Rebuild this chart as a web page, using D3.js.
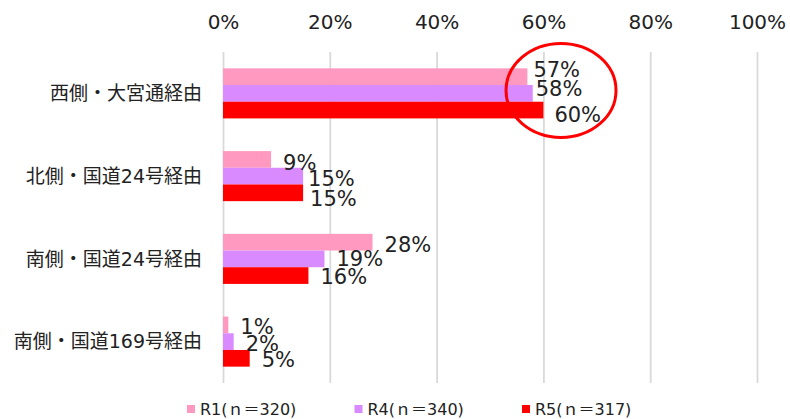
<!DOCTYPE html>
<html>
<head>
<meta charset="utf-8">
<script src="https://cdn.jsdelivr.net/npm/d3@7"></script>
<style>
  html, body { margin: 0; padding: 0; background: #fff; }
  svg { display: block; }
</style>
</head>
<body>
<div id="chart"></div>
<script>
const categories = ["西側・大宮通経由", "北側・国道24号経由", "南側・国道24号経由", "南側・国道169号経由"];
const seriesNames = ["R1(ｎ＝320)", "R4(ｎ＝340)", "R5(ｎ＝317)"];
const r1Values = [57, 9, 28, 1];
const r4Values = [58, 15, 19, 2];
const r5Values = [60, 15, 16, 5];
const tickValues = [0, 20, 40, 60, 80, 100];
const tickLabels = ["0%", "20%", "40%", "60%", "80%", "100%"];
const seriesColors = ["#FF99C0", "#DA8AFF", "#FF0000"];
// manual label nudges [dx, dy] per category, per series (as in the reference)
const labelNudge = [
  [[-6, -7], [-9, -5], [-1, 4]],
  [[0, 3], [-7, 2], [-5, 6]],
  [[0, 2], [0, 0], [0, 1]],
  [[0, 2], [0, 2], [0, 1]]
];

const W = 790, H = 419;
const seriesValues = [r1Values, r4Values, r5Values];
const latin = "'DejaVu Sans', 'Noto Sans CJK JP', sans-serif";

const svg = d3.select("#chart").append("svg").attr("width", W).attr("height", H);

const x = d3.scaleLinear().domain([0, 100]).range([223, 757]);
const y = d3.scaleBand().domain(categories).range([52, 383]).paddingInner(0.395).paddingOuter(0.1975);
const ys = d3.scaleBand().domain(d3.range(seriesNames.length)).range([0, y.bandwidth()]);

// gridlines + top axis labels
const axis = d3.axisTop(x).tickValues(tickValues).tickFormat((d, i) => tickLabels[i])
  .tickSizeInner(-(383 - 52)).tickSizeOuter(0).tickPadding(0);
const gAxis = svg.append("g").attr("transform", "translate(0,52)").call(axis);
gAxis.select(".domain").remove();
gAxis.selectAll(".tick line").attr("stroke", "#D9D9D9").attr("stroke-width", 1.8);
gAxis.selectAll(".tick text")
  .attr("y", -30).attr("dy", "0.35em")
  .attr("fill", "#222").style("font-family", latin).style("font-size", "20px");

// bars
categories.forEach((cat, ci) => {
  seriesValues.forEach((vals, si) => {
    svg.append("rect")
      .attr("x", x(0))
      .attr("y", y(cat) + ys(si))
      .attr("width", x(vals[ci]) - x(0))
      .attr("height", ys.bandwidth())
      .attr("fill", seriesColors[si]);
  });
});

// data labels
categories.forEach((cat, ci) => {
  seriesValues.forEach((vals, si) => {
    const n = labelNudge[ci][si];
    svg.append("text")
      .attr("x", x(vals[ci]) + 12 + n[0])
      .attr("y", y(cat) + ys(si) + ys.bandwidth() / 2 + n[1])
      .attr("dy", "0.36em")
      .attr("fill", "#222")
      .style("font-family", latin).style("font-size", "21px")
      .text(vals[ci] + "%");
  });
});

// category labels
svg.append("g").selectAll("text").data(categories).join("text")
  .attr("x", 202)
  .attr("y", d => y(d) + y.bandwidth() / 2)
  .attr("dy", "0.36em")
  .attr("text-anchor", "end")
  .attr("fill", "#222")
  .style("font-family", latin).style("font-size", "19px")
  .text(d => d);

// highlight ellipse around the first category's labels
svg.append("ellipse")
  .attr("cx", x(63.3))
  .attr("cy", y(categories[0]) + y.bandwidth() / 2 - 3)
  .attr("rx", 55).attr("ry", 47)
  .attr("fill", "none").attr("stroke", "#FF0000").attr("stroke-width", 3);

// legend
const legend = svg.append("g").attr("transform", "translate(0,409)");
seriesNames.forEach((name, i) => {
  const lx = 187 + i * 167.5;
  legend.append("rect").attr("x", lx).attr("y", -4).attr("width", 8).attr("height", 8).attr("fill", seriesColors[i]);
  legend.append("text").attr("x", lx + 13).attr("y", 0).attr("dy", "0.36em")
    .attr("fill", "#222").style("font-family", latin).style("font-size", "16px").text(name);
});
</script>
</body>
</html>
